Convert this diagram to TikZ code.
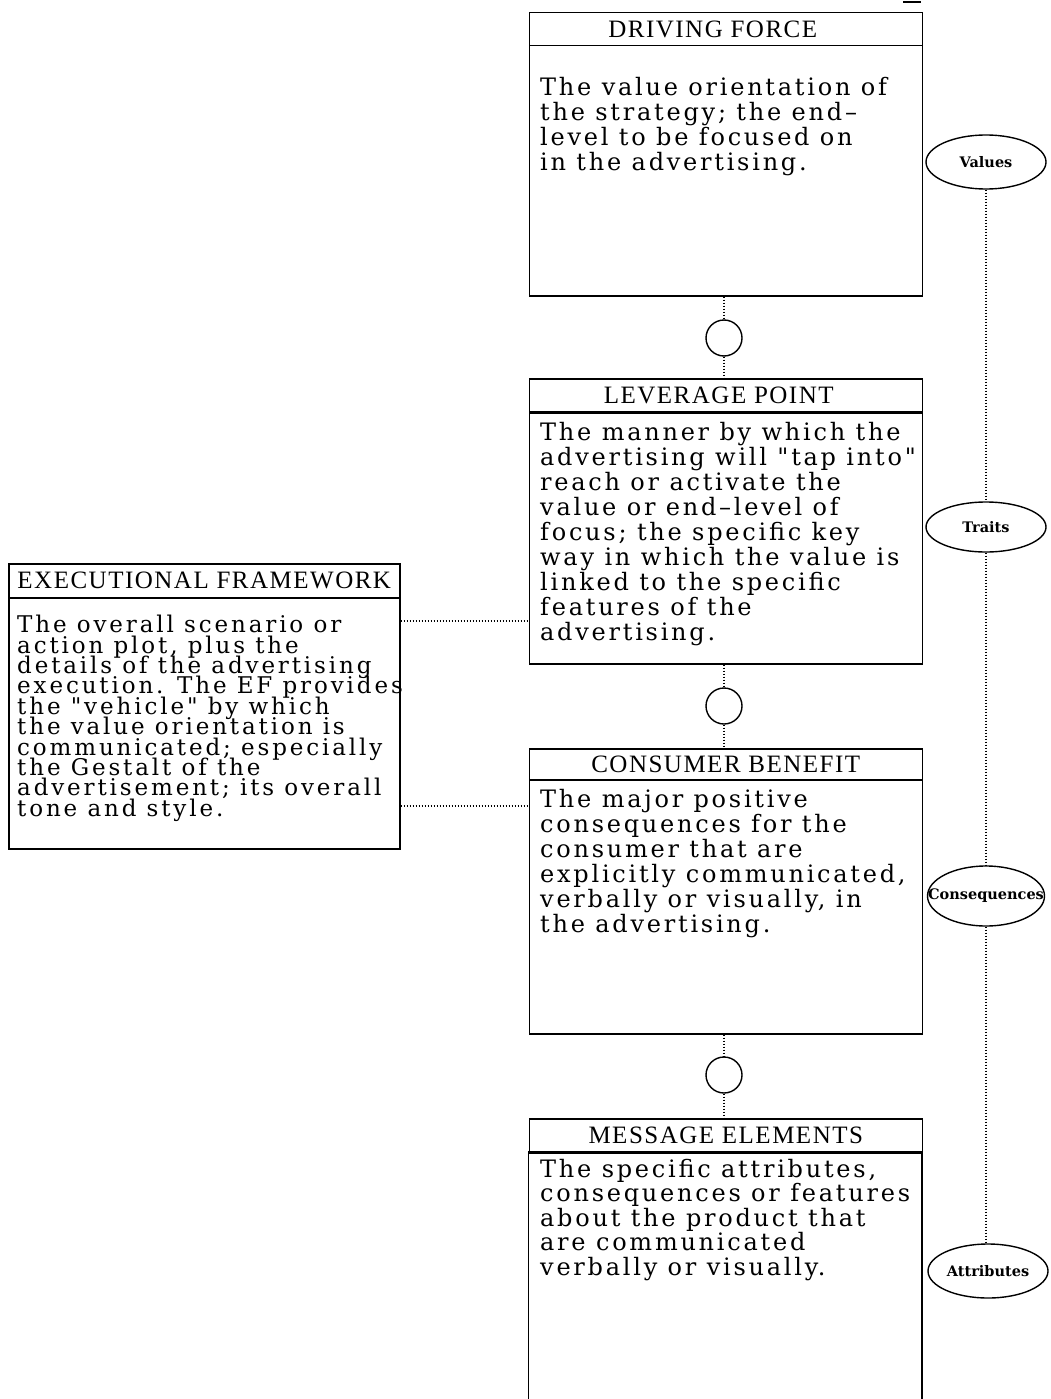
\documentclass[tikz,border=0pt]{standalone}
\usepackage{fontspec}
\setmainfont{DejaVu Serif}
\newfontfamily\bodyfont[LetterSpace=11.5]{DejaVu Serif}
\newfontfamily\efbodyfont[LetterSpace=12.5]{DejaVu Serif}
\newfontfamily\headfont[LetterSpace=6]{Liberation Serif}
\newfontfamily\ellfont{DejaVu Serif}
\newcommand\tightlines{\lineskiplimit -50pt\relax}
\usetikzlibrary{shapes.geometric}
\begin{document}
\begin{tikzpicture}[x=1pt,y=-1pt,
  hdr/.style={draw, line width=1.5pt, anchor=north west, minimum width=393pt,
    minimum height=33pt, inner sep=0pt, font=\headfont\fontsize{25}{25}\selectfont},
  bodybox/.style={draw, line width=1.5pt, anchor=north west, minimum width=393pt, inner sep=0pt},
  txt/.style={anchor=north west, align=left, inner sep=0pt, font={\bodyfont\fontsize{24}{25}\selectfont\tightlines}},
  circ/.style={circle, draw, line width=1.4pt, minimum size=36pt, inner sep=0pt},
  ell/.style={ellipse, draw, line width=1.4pt, minimum width=120pt, minimum height=54pt,
    inner sep=0pt, font=\ellfont\bfseries\fontsize{14.5}{14.5}\selectfont},
  link/.style={line width=1.2pt, dash pattern=on 1pt off 2pt}]
\useasboundingbox (0,0) rectangle (1051,1399);
\fill[white] (0,0) rectangle (1051,1399);

% small mark at the top
\draw[line width=1.5pt] (903,2) -- (921,2);

% DRIVING FORCE
\node[hdr] (dfh) at (528.5,12) {\hspace*{-26pt}DRIVING FORCE};
\node[bodybox, minimum height=250pt] (dfb) at (528.5,45) {};
\node[txt] (dft) at (540,77) {The value orientation of\\the strategy; the end–\\level to be focused on\\in the advertising.};

% LEVERAGE POINT
\node[hdr] (lph) at (528.5,378) {\hspace*{-14pt}LEVERAGE POINT};
\node[bodybox, minimum height=251pt] (lpb) at (528.5,412) {};
\node[txt] (lpt) at (540,422) {The manner by which the\\advertising will "tap into"\\reach or activate the\\value or end–level of\\focus; the specific key\\way in which the value is\\linked to the specific\\features of the\\advertising.};

% CONSUMER BENEFIT
\node[hdr, minimum height=31pt] (cbh) at (528.5,748) {CONSUMER BENEFIT};
\node[bodybox, minimum height=254pt] (cbb) at (528.5,779) {};
\node[txt] (cbt) at (540,789) {The major positive\\consequences for the\\consumer that are\\explicitly communicated,\\verbally or visually, in\\the advertising.};

% MESSAGE ELEMENTS
\node[hdr, minimum height=34pt] (meh) at (528.5,1118) {MESSAGE ELEMENTS};
\node[anchor=north west, minimum width=393pt, minimum height=248pt, inner sep=0pt] (meb) at (528.5,1152) {};
\draw[line width=1.5pt] (meb.south west) -- (meb.north west) -- (meb.north east) -- (meb.south east);
\node[txt, font={\bodyfont\fontsize{24}{24.4}\selectfont\tightlines}] (met) at (540,1159) {The specific attributes,\\consequences or features\\about the product that\\are communicated\\verbally or visually.};

% EXECUTIONAL FRAMEWORK
\node[hdr, minimum width=391pt, minimum height=34pt] (efh) at (8,563) {EXECUTIONAL FRAMEWORK};
\node[bodybox, minimum width=391pt, minimum height=251pt] (efb) at (8,597) {};
\node[txt, font={\efbodyfont\fontsize{23}{20.4}\selectfont\tightlines}] (eft) at (17,615) {The overall scenario or\\action plot, plus the\\details of the advertising\\execution. The EF provides\\the "vehicle" by which\\the value orientation is\\communicated; especially\\the Gestalt of the\\advertisement; its overall\\tone and style.};

% circles
\node[circ] (c1) at (724,338) {};
\node[circ] (c2) at (724,706) {};
\node[circ] (c3) at (724,1075) {};

% ellipses
\node[ell] (val) at (986,162) {\makebox[0pt]{Values}};
\node[ell, minimum height=50pt] (tra) at (986,527) {\makebox[0pt]{Traits}};
\node[ell, minimum width=117pt, minimum height=60pt] (con) at (986,896) {\makebox[0pt]{Consequences}};
\node[ell] (att) at (988,1271) {\makebox[0pt]{Attributes}};

% connectors
\draw[link] (dfb.south -| c1) -- (c1.north);
\draw[link] (c1.south) -- (lph.north -| c1);
\draw[link] (lpb.south -| c2) -- (c2.north);
\draw[link] (c2.south) -- (cbh.north -| c2);
\draw[link] (cbb.south -| c3) -- (c3.north);
\draw[link] (c3.south) -- (meh.north -| c3);

\draw[link] (val.south) -- (tra.north);
\draw[link] (tra.south) -- (con.north);
\draw[link] (con.south) -- (att.north -| con.south);

\coordinate (ef1) at (efb.east |- 0,621);
\coordinate (ef2) at (efb.east |- 0,806);
\draw[link] (ef1) -- (ef1 -| lpb.west);
\draw[link] (ef2) -- (ef2 -| cbb.west);
\end{tikzpicture}
\end{document}
